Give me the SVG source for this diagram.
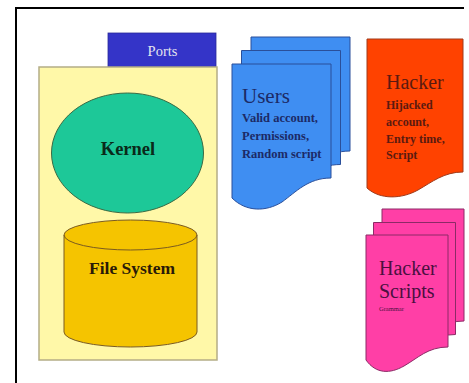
<svg xmlns="http://www.w3.org/2000/svg" width="469" height="383" viewBox="0 0 469 383">
<style>
text{font-family:"Liberation Serif","Times New Roman",serif}
.blue{fill:#3f8ef2;stroke:#2a4f9a;stroke-width:1}
.pink{fill:#ff3fa6;stroke:#8c2a66;stroke-width:1}
.bu{fill:#1c2a66}
.hk{fill:#5a1a10}
.hs{fill:#4a1040}
</style>
<defs>
<path id="userPage" d="M232,64 H331 V178 C308,178 296,192 282,202 C266,212 246,212 232,198 Z"/>
<path id="scriptPage" d="M366,235 H448 V347 C428,347 418,358 404,366 C390,374 376,374 366,360 Z"/>
</defs>
<g id="frame">
<line x1="15" y1="8" x2="464" y2="8" stroke="#000" stroke-width="2"/>
<line x1="16" y1="7" x2="16" y2="383" stroke="#000" stroke-width="2"/>
</g>
<g id="ports">
<rect x="108" y="33" width="108" height="34" fill="#3434c8" stroke="#2a2a9a" stroke-width="0.8"/>
<text x="162.5" y="56" font-size="14.5" fill="#e4e4ee" text-anchor="middle">Ports</text>
</g>
<g id="host">
<rect x="39" y="67" width="178" height="293" fill="#fff8a8" stroke="#b4ad86" stroke-width="1.5"/>
</g>
<g id="kernel">
<ellipse cx="127.5" cy="153" rx="76" ry="60" fill="#1dc898" stroke="#3a6a44" stroke-width="1"/>
<text x="128" y="155" font-size="18.5" font-weight="bold" fill="#0a2a1a" text-anchor="middle">Kernel</text>
</g>
<g id="filesystem">
<path d="M64,235 V332 A66.5,15 0 0 0 197,332 V235 A66.5,15 0 0 0 64,235 Z" fill="#f5c400" stroke="#7a5a20" stroke-width="1"/>
<path d="M64,235 A66.5,15 0 0 0 197,235" fill="none" stroke="#7a5a20" stroke-width="1"/>
<text x="132" y="274" font-size="17.5" font-weight="bold" fill="#2a1a08" text-anchor="middle">File System</text>
</g>
<g id="users">
<use href="#userPage" class="blue" transform="translate(19,-27)"/>
<use href="#userPage" class="blue" transform="translate(9.5,-13.5)"/>
<use href="#userPage" class="blue"/>
<text x="242" y="103" font-size="21" class="bu">Users</text>
<text x="242" y="122" font-size="12.5" font-weight="bold" class="bu">Valid account,</text>
<text x="242" y="140" font-size="12.5" font-weight="bold" class="bu">Permissions,</text>
<text x="242" y="158" font-size="12.5" font-weight="bold" class="bu">Random script</text>
</g>
<g id="hacker">
<path d="M367,39 H463 V172 C444,172 432,182 418,190 C402,199 380,200 367,188 Z" fill="#ff4200" stroke="#a03a1a" stroke-width="1"/>
<text x="386" y="89" font-size="20" class="hk">Hacker</text>
<text x="386" y="109" font-size="12" font-weight="bold" class="hk">Hijacked</text>
<text x="386" y="126" font-size="12" font-weight="bold" class="hk">account,</text>
<text x="386" y="143" font-size="12" font-weight="bold" class="hk">Entry time,</text>
<text x="386" y="159" font-size="12" font-weight="bold" class="hk">Script</text>
</g>
<g id="hackerScripts">
<use href="#scriptPage" class="pink" transform="translate(16,-26)"/>
<use href="#scriptPage" class="pink" transform="translate(7.5,-12.5)"/>
<use href="#scriptPage" class="pink"/>
<text x="379" y="275" font-size="20" class="hs">Hacker</text>
<text x="379" y="298" font-size="20" class="hs">Scripts</text>
<text x="379" y="311" font-size="6.5" class="hs">Grammar</text>
</g>
<g id="connectors"></g>
</svg>
